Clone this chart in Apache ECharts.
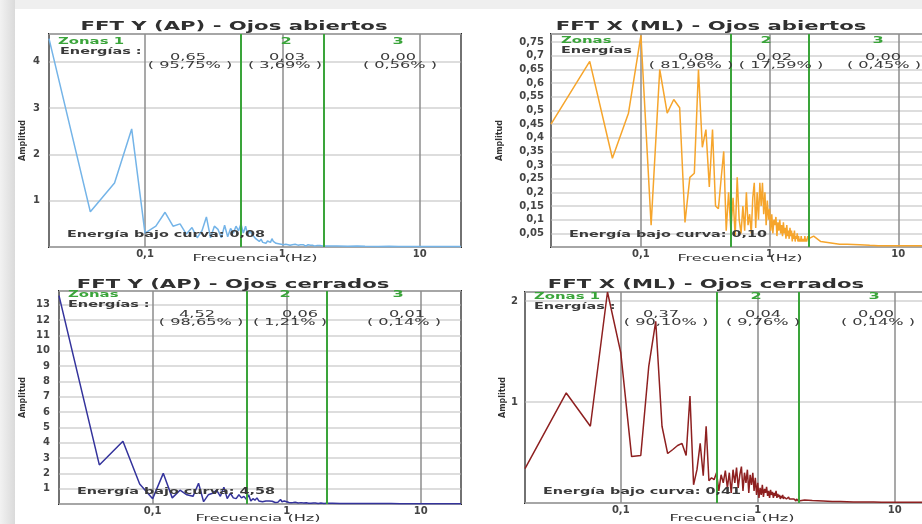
<!DOCTYPE html>
<html><head><meta charset="utf-8">
<script src="https://cdn.jsdelivr.net/npm/echarts@6/dist/echarts.min.js"></script>
<style>
html,body{margin:0;padding:0;background:#fff;}
#wrap{position:relative;width:922px;height:524px;overflow:hidden;background:#fff;}
#topStrip{position:absolute;left:0;top:0;width:922px;height:9px;background:#efefef;}
#leftStrip{position:absolute;left:0;top:0;width:15px;height:524px;background:linear-gradient(to right,#f2f2f2,#dadada);}
#chart{position:absolute;left:0;top:0;width:922px;height:524px;}
</style></head><body>
<div id="wrap"><div id="topStrip"></div><div id="leftStrip"></div><div id="chart"></div></div>
<script>
// ---------- DATA ----------
const freqHz = [
 0.02,0.04,0.06,0.08,0.10,0.12,0.14,0.16,0.18,0.20,
 0.22,0.24,0.26,0.28,0.30,0.32,0.34,0.36,0.38,0.40,
 0.42,0.44,0.46,0.48,0.50,0.52,0.54,0.56,0.58,0.60,
 0.62,0.64,0.66,0.68,0.70,0.72,0.74,0.76,0.78,0.80,
 0.82,0.84,0.86,0.88,0.90,0.92,0.94,0.96,0.98,1.00,
 1.02,1.04,1.06,1.08,1.10,1.12,1.14,1.16,1.18,1.20,
 1.22,1.24,1.26,1.28,1.30,1.32,1.34,1.36,1.38,1.40,
 1.42,1.44,1.46,1.48,1.50,1.52,1.54,1.56,1.58,1.60,
 1.62,1.64,1.66,1.68,1.70,1.72,1.74,1.76,1.78,1.80,
 1.82,1.84,1.86,1.88,1.90,1.92,1.94,1.96,1.98,2.00,
 2.2,2.5,3,3.5,4,5,6,7,8,10,12,15,20
];
const ampYOpen = [
 4.5,0.76,1.38,2.55,0.3,0.45,0.75,0.45,0.5,0.28,
 0.42,0.2,0.35,0.65,0.2,0.45,0.38,0.2,0.47,0.22,
 0.4,0.3,0.45,0.35,0.5,0.3,0.45,0.25,0.35,0.28,
 0.3,0.18,0.22,0.12,0.17,0.1,0.14,0.08,0.13,0.16,
 0.1,0.18,0.12,0.15,0.08,0.12,0.07,0.1,0.06,0.09,
 0.05,0.08,0.06,0.1,0.05,0.07,0.04,0.06,0.05,0.07,
 0.04,0.06,0.03,0.05,0.04,0.06,0.03,0.05,0.04,0.03,
 0.05,0.03,0.04,0.02,0.04,0.03,0.05,0.03,0.02,0.04,
 0.03,0.02,0.04,0.02,0.03,0.02,0.03,0.02,0.03,0.02,
 0.03,0.02,0.02,0.03,0.02,0.02,0.03,0.02,0.02,0.03,
 0.02,0.02,0.015,0.02,0.015,0.01,0.015,0.01,0.01,0.01,0.01,0.01,0.01
];
const ampXOpen = [
 0.45,0.68,0.325,0.49,0.775,0.08,0.65,0.49,0.54,0.51,
 0.09,0.255,0.27,0.65,0.365,0.43,0.22,0.43,0.15,0.14,
 0.25,0.35,0.06,0.2,0.06,0.18,0.04,0.255,0.1,0.05,
 0.15,0.06,0.2,0.08,0.12,0.05,0.18,0.235,0.07,0.2,
 0.1,0.235,0.15,0.235,0.12,0.2,0.08,0.17,0.1,0.14,
 0.06,0.12,0.05,0.1,0.08,0.11,0.04,0.09,0.06,0.1,
 0.05,0.08,0.04,0.09,0.05,0.07,0.03,0.08,0.04,0.06,
 0.03,0.07,0.04,0.06,0.02,0.05,0.03,0.06,0.02,0.04,
 0.03,0.05,0.02,0.04,0.02,0.03,0.02,0.04,0.02,0.03,
 0.02,0.03,0.02,0.04,0.02,0.03,0.02,0.03,0.04,0.03,
 0.04,0.02,0.015,0.01,0.01,0.008,0.006,0.005,0.005,0.005,0.005,0.005,0.005
];
const ampYClosed = [
 13.6,2.55,4.1,1.3,0.35,2.0,0.4,0.9,0.6,0.5,
 1.35,0.15,0.6,0.7,0.9,0.5,1.1,0.35,0.7,0.4,
 0.35,0.6,0.4,0.5,0.3,0.6,0.2,0.35,0.25,0.4,
 0.2,0.3,0.15,0.25,0.2,0.15,0.2,0.12,0.18,0.15,
 0.1,0.18,0.12,0.25,0.3,0.15,0.12,0.2,0.1,0.15,
 0.12,0.1,0.15,0.08,0.12,0.1,0.09,0.12,0.08,0.1,
 0.07,0.1,0.08,0.09,0.06,0.08,0.07,0.09,0.06,0.08,
 0.06,0.07,0.05,0.08,0.06,0.05,0.07,0.05,0.06,0.05,
 0.05,0.06,0.04,0.05,0.06,0.04,0.05,0.04,0.05,0.06,
 0.04,0.05,0.04,0.05,0.04,0.05,0.04,0.04,0.05,0.06,
 0.05,0.04,0.04,0.03,0.03,0.03,0.03,0.02,0.02,0.02,0.02,0.02,0.02
];
const ampXClosed = [
 0.34,1.09,0.76,2.09,1.49,0.46,0.47,1.35,1.8,0.76,
 0.49,0.53,0.57,0.59,0.47,1.06,0.18,0.33,0.59,0.27,
 0.76,0.22,0.25,0.23,0.3,0.12,0.28,0.2,0.32,0.15,
 0.3,0.1,0.33,0.2,0.35,0.15,0.28,0.36,0.12,0.3,
 0.2,0.33,0.1,0.28,0.18,0.3,0.12,0.25,0.08,0.2,
 0.05,0.15,0.08,0.18,0.06,0.14,0.1,0.16,0.07,0.12,
 0.05,0.13,0.08,0.11,0.05,0.1,0.07,0.12,0.05,0.09,
 0.06,0.08,0.04,0.07,0.05,0.08,0.04,0.06,0.05,0.07,
 0.04,0.05,0.03,0.06,0.04,0.05,0.03,0.04,0.03,0.05,
 0.03,0.04,0.03,0.04,0.02,0.04,0.03,0.03,0.02,0.03,
 0.03,0.025,0.02,0.015,0.015,0.01,0.01,0.01,0.008,0.008,0.008,0.008,0.008
];
const zoneBounds = [0.5, 2];
const xTickValues = [0.1, 1, 10];
const xTickLabels = ['0,1', '1', '10'];
const yTickYOpen = [1,2,3,4];
const yLabYOpen = ['1','2','3','4'];
const yTickXOpen = [0.05,0.1,0.15,0.2,0.25,0.3,0.35,0.4,0.45,0.5,0.55,0.6,0.65,0.7,0.75];
const yLabXOpen = ['0,05','0,1','0,15','0,2','0,25','0,3','0,35','0,4','0,45','0,5','0,55','0,6','0,65','0,7','0,75'];
const yTickYClosed = [1,2,3,4,5,6,7,8,9,10,11,12,13];
const yLabYClosed = ['1','2','3','4','5','6','7','8','9','10','11','12','13'];
const yTickXClosed = [1,2];
const yLabXClosed = ['1','2'];
const titles = ['FFT Y (AP) - Ojos abiertos','FFT X (ML) - Ojos abiertos','FFT Y (AP) - Ojos cerrados','FFT X (ML) - Ojos cerrados'];
const zoneHeads = ['Zonas 1','Zonas','Zonas','Zonas 1'];
const energyHeads = ['Energías :','Energías','Energías :','Energías :'];
const energyYOpen = ['0,65','0,03','0,00'];
const pctYOpen = ['95,75%','3,69%','0,56%'];
const energyXOpen = ['0,08','0,02','0,00'];
const pctXOpen = ['81,96%','17,59%','0,45%'];
const energyYClosed = ['4,52','0,06','0,01'];
const pctYClosed = ['98,65%','1,21%','0,14%'];
const energyXClosed = ['0,37','0,04','0,00'];
const pctXClosed = ['90,10%','9,76%','0,14%'];
const totalEnergy = ['0,08','0,10','4,58','0,41'];
const xName = 'Frecuencia (Hz)';
const yName = 'Amplitud';

// ---------- LAYOUT / STYLE ----------
const panels = [
 {amp:ampYOpen, color:'#74b4e8', yMax:4.6, interval:1, ticks:yTickYOpen, labs:yLabYOpen, energy:energyYOpen, pct:pctYOpen,
  grid:{left:49,top:34,width:412,height:213}, nameGap:22, labelMargin:9,
  pos:{title:[234,27], xname:[255,259], zonas:[58,42], energias:[60,52], z2:[286,42], z3:[398,42],
       e:[[188,58],[287,58],[398,58]], p:[[190,65.5],[285,65.5],[400,65.5]], total:[67,235]}},
 {amp:ampXOpen, color:'#f6a52c', yMax:0.78, interval:0.05, ticks:yTickXOpen, labs:yLabXOpen, energy:energyXOpen, pct:pctXOpen,
  grid:{left:551,top:34,width:386,height:213}, nameGap:47, labelMargin:7,
  pos:{title:[711,27], xname:[740,259], zonas:[561,41], energias:[561,51], z2:[766,41], z3:[878,41],
       e:[[696,58],[774,58],[883,58]], p:[[691,65.5],[781,65.5],[884,65.5]], total:[569,235]}},
 {amp:ampYClosed, color:'#34339c', yMax:13.9, interval:1, ticks:yTickYClosed, labs:yLabYClosed, energy:energyYClosed, pct:pctYClosed,
  grid:{left:59,top:291,width:402,height:213}, nameGap:32, labelMargin:9,
  pos:{title:[233,285], xname:[258,519], zonas:[68,295], energias:[68,305], z2:[285,295], z3:[398,295],
       e:[[197,315],[300,315],[407,315]], p:[[201,323],[290,323],[404,323]], total:[77,492]}},
 {amp:ampXClosed, color:'#8e2020', yMax:2.09, interval:1, ticks:yTickXClosed, labs:yLabXClosed, energy:energyXClosed, pct:pctXClosed,
  grid:{left:525,top:292,width:411,height:211}, nameGap:17, labelMargin:7,
  pos:{title:[706,285], xname:[732,519], zonas:[534,297], energias:[534,307], z2:[756,297], z3:[874,297],
       e:[[661,315],[763,315],[876,315]], p:[[666,323],[763,323],[878,323]], total:[543,492]}}
];
const GREEN = '#3aa43a';
const TXT = '#3a3a3a';
const FONT = '"DejaVu Sans", sans-serif';
const SX = 1.9;

function txt(x, y, s, opt) {
  opt = opt || {};
  const align = opt.align || 'center';
  return {
    type:'text', x:x, y:y, scaleX: opt.scale || SX, scaleY:1, z:100, silent:true,
    style:{ text:s, fill:opt.color || TXT,
      font:(opt.weight||'normal') + ' ' + (opt.size||8.5) + 'px ' + FONT,
      textAlign:align, align:align, textVerticalAlign:'middle', verticalAlign:'middle' }
  };
}
function fmtFrom(vals, labs) {
  return function (v) {
    for (let i = 0; i < vals.length; i++) if (Math.abs(v - vals[i]) < 1e-6 * Math.max(1, vals[i])) return labs[i];
    return '';
  };
}

const grids = [], xAxes = [], yAxes = [], series = [], graphics = [];
panels.forEach((p, i) => {
  grids.push(Object.assign({show:true, backgroundColor:'#fff', borderColor:'#262626', borderWidth:2,
    containLabel:false, outerBoundsMode:'none'}, p.grid));
  xAxes.push({type:'log', logBase:10, gridIndex:i, min:0.02, max:20,
    axisLine:{show:false}, axisTick:{show:false},
    splitLine:{show:true, lineStyle:{color:'#8c8c8c', width:1.5}},
    axisLabel:{margin:2, fontSize:10, fontWeight:'bold', color:'#444', fontFamily:FONT,
      formatter: fmtFrom(xTickValues, xTickLabels)}});
  yAxes.push({type:'value', gridIndex:i, min:0, max:p.yMax, interval:p.interval,
    name:yName, nameLocation:'middle', nameRotate:90, nameGap:p.nameGap,
    nameTextStyle:{fontSize:8, fontWeight:'bold', color:'#333', fontFamily:FONT},
    axisLine:{show:false}, axisTick:{show:false},
    splitLine:{show:true, lineStyle:{color:'#d2d2d2', width:1.5}},
    axisLabel:{margin:p.labelMargin, fontSize:10, fontWeight:'bold', color:'#444', fontFamily:FONT,
      formatter: fmtFrom(p.ticks, p.labs)}});
  series.push({type:'line', xAxisIndex:i, yAxisIndex:i, showSymbol:false, symbol:'none',
    animation:false, clip:true, silent:true,
    lineStyle:{color:p.color, width:1.5}, itemStyle:{color:p.color},
    data: freqHz.map((f, k) => [f, p.amp[k]]),
    markLine:{silent:true, symbol:['none','none'], animation:false, label:{show:false},
      lineStyle:{color:GREEN, width:2, type:'solid'},
      emphasis:{disabled:true},
      data: zoneBounds.map(b => ({xAxis:b}))}});
  const q = p.pos;
  graphics.push(txt(q.title[0], q.title[1], titles[i], {size:13, weight:'bold', color:'#303030', scale:1.63}));
  graphics.push(txt(q.xname[0], q.xname[1], xName, {size:8.5, color:'#333'}));
  graphics.push(txt(q.zonas[0], q.zonas[1], zoneHeads[i], {align:'left', color:GREEN, weight:'bold', size:8.5, scale:1.75}));
  graphics.push(txt(q.energias[0], q.energias[1], energyHeads[i], {align:'left', weight:'bold', scale:1.7}));
  graphics.push(txt(q.z2[0], q.z2[1], '2', {color:GREEN, weight:'bold'}));
  graphics.push(txt(q.z3[0], q.z3[1], '3', {color:GREEN, weight:'bold'}));
  for (let z = 0; z < 3; z++) {
    graphics.push(txt(q.e[z][0], q.e[z][1], p.energy[z]));
    graphics.push(txt(q.p[z][0], q.p[z][1], '( ' + p.pct[z] + ' )'));
  }
  graphics.push(txt(q.total[0], q.total[1], 'Energía bajo curva: ' + totalEnergy[i], {align:'left', size:9, weight:'bold', scale:1.6}));
});

const chart = echarts.init(document.getElementById('chart'), null, {renderer:'canvas'});
chart.setOption({
  backgroundColor:'transparent',
  animation:false,
  grid:grids, xAxis:xAxes, yAxis:yAxes, series:series,
  graphic:{elements:graphics}
});
</script>
</body></html>
